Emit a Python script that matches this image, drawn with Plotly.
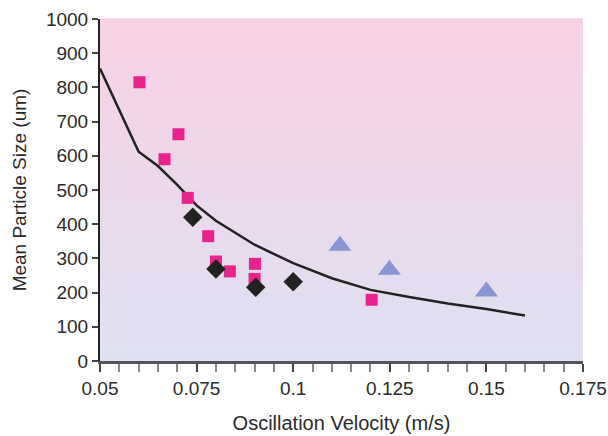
import plotly.graph_objects as go

# Data
sq_x = [0.0602, 0.0667, 0.0703, 0.0727, 0.0780, 0.0800, 0.0836, 0.0901, 0.0900, 0.1203]
sq_y = [815, 590, 663, 477, 365, 291, 262, 284, 240, 179]

dm_x = [0.0740, 0.0800, 0.0903, 0.1000]
dm_y = [420, 269, 216, 232]

tr_x = [0.1121, 0.1249, 0.1500]
tr_y = [337, 267, 203]

fit_x = [0.05, 0.055, 0.06, 0.065, 0.07, 0.075, 0.08, 0.09, 0.10, 0.11, 0.12, 0.13, 0.14, 0.15, 0.16]
fit_y = [855, 735, 612, 570, 515, 455, 410, 340, 286, 242, 208, 187, 168, 152, 133]

x_ticks = [0.05, 0.075, 0.1, 0.125, 0.15, 0.175]
x_labels = ["0.05", "0.075", "0.1", "0.125", "0.15", "0.175"]
y_ticks = [0, 100, 200, 300, 400, 500, 600, 700, 800, 900, 1000]

font = "Liberation Sans, Arial, sans-serif"

fig = go.Figure()
fig.add_trace(go.Scatter(x=fit_x, y=fit_y, mode="lines",
                         line=dict(color="#222222", width=2.5), hoverinfo="skip"))
fig.add_trace(go.Scatter(x=sq_x, y=sq_y, mode="markers",
                         marker=dict(symbol="square", size=12, color="#e8238c")))
fig.add_trace(go.Scatter(x=dm_x, y=dm_y, mode="markers",
                         marker=dict(symbol="diamond", size=15, color="#222222")))
fig.add_trace(go.Scatter(x=tr_x, y=tr_y, mode="markers",
                         marker=dict(symbol="triangle-up", size=20, color="#8a95d3")))

# vertical gradient background (pink top -> lavender bottom)
top = (248, 209, 228)
bot = (223, 225, 242)
n = 40
shapes = []
for i in range(n):
    t = i / (n - 1)
    c = tuple(round(bot[k] + (top[k] - bot[k]) * t) for k in range(3))
    shapes.append(dict(type="rect", xref="paper", yref="paper",
                       x0=0, x1=1, y0=i / n, y1=(i + 1) / n + 0.002,
                       fillcolor="rgb(%d,%d,%d)" % c, line=dict(width=0), layer="below"))

fig.update_layout(
    width=608, height=436,
    margin=dict(l=100, r=25, t=19, b=75, autoexpand=False),
    paper_bgcolor="white", plot_bgcolor="white",
    showlegend=False,
    shapes=shapes,
    font=dict(family=font, size=16, color="#333333"),
    xaxis=dict(range=[0.05, 0.175], tickvals=x_ticks, ticktext=x_labels,
               automargin=False,
               showgrid=False, zeroline=False, showline=True,
               linecolor="#555555", linewidth=3,
               ticks="outside", ticklen=8, tickwidth=2, tickcolor="#444444",
               minor=dict(dtick=0.005, ticks="outside", ticklen=8, tickwidth=2,
                          tickcolor="#888888", showgrid=False),
               tickfont=dict(size=19, color="#2a2a2a"),
               title=dict(text="Oscillation Velocity (m/s)",
                          font=dict(size=20, color="#2a2a2a"), standoff=19)),
    yaxis=dict(range=[0, 1000], tickvals=y_ticks,
               automargin=False,
               showgrid=False, zeroline=False, showline=True,
               linecolor="#222222", linewidth=2,
               ticks="outside", ticklen=6, tickwidth=2, tickcolor="#444444",
               tickfont=dict(size=19, color="#2a2a2a"),
               title=dict(text="Mean Particle Size (um)",
                          font=dict(size=19, color="#2a2a2a"), standoff=14)),
)

fig.write_html("out.html")
